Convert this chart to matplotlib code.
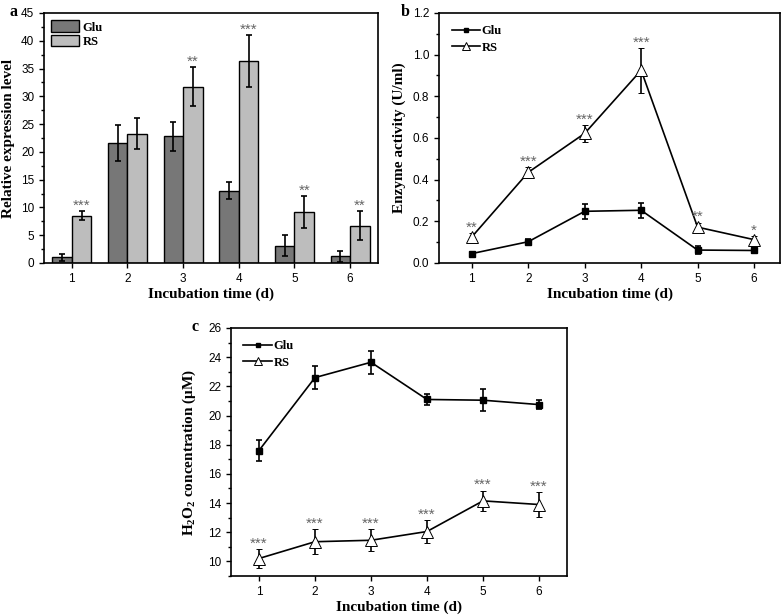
import numpy as np
import matplotlib
matplotlib.use("Agg")
import matplotlib.pyplot as plt
from matplotlib.ticker import MultipleLocator

plt.rcParams['font.family'] = ['Liberation Sans', 'DejaVu Sans']
plt.rcParams['mathtext.fontset'] = 'custom'
plt.rcParams['mathtext.rm'] = 'Liberation Serif:bold'
plt.rcParams['mathtext.it'] = 'Liberation Serif:bold'
plt.rcParams['mathtext.bf'] = 'Liberation Serif:bold'

days = [1, 2, 3, 4, 5, 6]

# panel a - relative expression
expr_glu = [1.0, 21.6, 22.8, 13.0, 3.1, 1.2]
expr_glu_err = [0.7, 3.2, 2.6, 1.5, 1.9, 1.0]
expr_rs = [8.5, 23.3, 31.7, 36.3, 9.2, 6.7]
expr_rs_err = [0.8, 2.8, 3.5, 4.7, 2.9, 2.6]
expr_stars = ['***', '', '**', '***', '**', '**']

# panel b - enzyme activity
enz_glu = [0.045, 0.102, 0.248, 0.253, 0.062, 0.060]
enz_glu_err = [0.008, 0.012, 0.035, 0.035, 0.018, 0.010]
enz_rs = [0.125, 0.435, 0.622, 0.925, 0.172, 0.112]
enz_rs_err = [0.020, 0.025, 0.040, 0.107, 0.022, 0.018]
enz_stars = ['**', '***', '***', '***', '**', '*']

# panel c - H2O2
h2o2_glu = [17.6, 22.6, 23.65, 21.1, 21.05, 20.75]
h2o2_glu_err = [0.7, 0.8, 0.8, 0.35, 0.75, 0.3]
h2o2_rs = [10.2, 11.35, 11.45, 12.05, 14.15, 13.9]
h2o2_rs_err = [0.65, 0.85, 0.75, 0.8, 0.7, 0.85]
h2o2_stars = ['***', '***', '***', '***', '***', '***']

serif_bold = dict(family='Liberation Serif', weight='bold')
leg_font = dict(family='Liberation Serif', weight='bold', size=9)
star_col = '#666666'
lab_fs = 11

fig = plt.figure(figsize=(7.84, 6.15), dpi=100)
ax_a = fig.add_axes([0.0561, 0.5724, 0.426, 0.4065])
ax_b = fig.add_axes([0.560, 0.5724, 0.4349, 0.4065])
ax_c = fig.add_axes([0.2946, 0.0634, 0.4286, 0.4033])


def style(ax):
    for s in ax.spines.values():
        s.set_linewidth(1.2)
    ax.tick_params(direction='out', length=3.5, width=1, labelsize=8.5)
    ax.tick_params(which='minor', direction='out', length=2.2, width=1)
    ax.tick_params(axis='x', which='minor', bottom=False)
    ax.set_xticks(days)
    ax.set_xlabel('Incubation time (d)', fontsize=lab_fs, labelpad=2, **serif_bold)


def lines(ax, glu, glu_err, rs, rs_err, stars, off):
    e1 = ax.errorbar(days, glu, yerr=glu_err, color='black', marker='s', ms=4.5,
                     lw=1.2, capsize=2.5, elinewidth=1.2, capthick=1.2)
    e2 = ax.errorbar(days, rs, yerr=rs_err, color='black', marker='^', ms=8,
                     mfc='white', mec='black', mew=0.7, lw=1.2, capsize=2.5,
                     elinewidth=1.2, capthick=1.2)
    for xi, v, e, s in zip(days, rs, rs_err, stars):
        ax.text(xi, v + e + off, s, ha='center', va='bottom', color=star_col, fontsize=11)
    ax.legend([e1[0], e2[0]], ['Glu', 'RS'], loc='upper left', prop=leg_font,
              frameon=False, handlelength=2.3, labelspacing=0.35, handletextpad=0.1,
              borderaxespad=0.6, markerscale=0.65)


# a
x = np.array(days)
w = 0.35
ax_a.bar(x - w / 2, expr_glu, w, color='#777777', edgecolor='black', linewidth=1.0,
         yerr=expr_glu_err, capsize=2.5, error_kw=dict(elinewidth=1.2, capthick=1.2), label='Glu')
ax_a.bar(x + w / 2, expr_rs, w, color='#bdbdbd', edgecolor='black', linewidth=1.0,
         yerr=expr_rs_err, capsize=2.5, error_kw=dict(elinewidth=1.2, capthick=1.2), label='RS')
for xi, v, e, s in zip(x, expr_rs, expr_rs_err, expr_stars):
    ax_a.text(xi + w / 2, v + e - 0.3, s, ha='center', va='bottom', color=star_col, fontsize=11)
ax_a.set_xlim(0.5, 6.5)
ax_a.set_ylim(0, 45)
ax_a.yaxis.set_major_locator(MultipleLocator(5))
ax_a.yaxis.set_minor_locator(MultipleLocator(2.5))
ax_a.set_ylabel('Relative expression level', fontsize=lab_fs, labelpad=4, **serif_bold)
style(ax_a)
ax_a.legend(loc='upper left', prop=leg_font, frameon=False, handlelength=2.2,
            handleheight=1.05, labelspacing=0.1, handletextpad=0.3,
            borderaxespad=0.2, borderpad=0.4)

# b
lines(ax_b, enz_glu, enz_glu_err, enz_rs, enz_rs_err, enz_stars, -0.008)
ax_b.set_xlim(0.42, 6.46)
ax_b.set_ylim(0, 1.2)
ax_b.yaxis.set_major_locator(MultipleLocator(0.2))
ax_b.yaxis.set_minor_locator(MultipleLocator(0.1))
ax_b.set_ylabel('Enzyme activity (U/ml)', fontsize=lab_fs, labelpad=5, **serif_bold)
style(ax_b)

# c
lines(ax_c, h2o2_glu, h2o2_glu_err, h2o2_rs, h2o2_rs_err, h2o2_stars, -0.1)
ax_c.set_xlim(0.5, 6.5)
ax_c.set_ylim(9, 26)
ax_c.yaxis.set_major_locator(MultipleLocator(2))
ax_c.yaxis.set_minor_locator(MultipleLocator(1))
ax_c.set_ylabel(r'H$_\mathregular{2}$O$_\mathregular{2}$ concentration (μM)',
                fontsize=lab_fs, labelpad=7, **serif_bold)
style(ax_c)

fig.text(9 / 784, 1 - 16 / 615, 'a', fontsize=11.5, **serif_bold)
fig.text(401 / 784, 1 - 16 / 615, 'b', fontsize=11.5, **serif_bold)
fig.text(192 / 784, 1 - 331 / 615, 'c', fontsize=11.5, **serif_bold)

fig.savefig('out.png', dpi=100)
